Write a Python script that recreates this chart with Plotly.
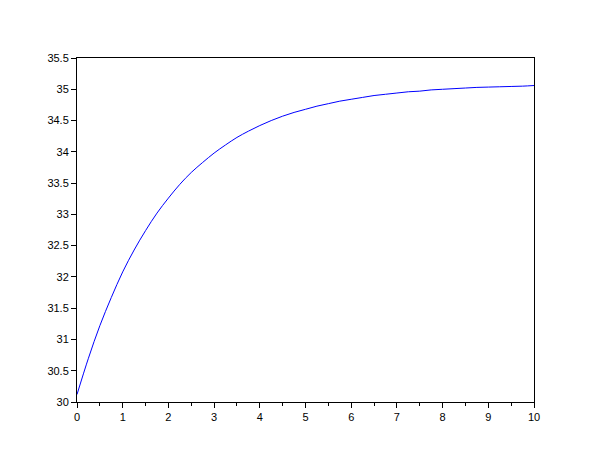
import plotly.graph_objects as go

x_vals = [0, 0.25, 0.5, 0.75, 1, 1.25, 1.5, 1.75, 2, 2.25, 2.5, 2.75, 3, 3.25, 3.5, 3.75,
          4, 4.25, 4.5, 4.75, 5, 5.25, 5.5, 5.75, 6, 6.25, 6.5, 6.75, 7, 7.25, 7.5, 7.75,
          8, 8.25, 8.5, 8.75, 9, 9.25, 9.5, 9.75, 10]
y_vals = [30.12, 30.70, 31.22, 31.67, 32.08, 32.43, 32.74, 33.02, 33.26, 33.48, 33.67, 33.83,
          33.98, 34.11, 34.23, 34.33, 34.42, 34.50, 34.57, 34.63, 34.68, 34.73, 34.77, 34.81,
          34.84, 34.87, 34.90, 34.92, 34.94, 34.96, 34.97, 34.99, 35.00, 35.01, 35.02, 35.03,
          35.035, 35.04, 35.045, 35.05, 35.06]

x_ticks = [0, 1, 2, 3, 4, 5, 6, 7, 8, 9, 10]
y_ticks = [30, 30.5, 31, 31.5, 32, 32.5, 33, 33.5, 34, 34.5, 35, 35.5]

fig = go.Figure()
fig.add_trace(go.Scatter(x=x_vals, y=y_vals, mode="lines",
                         line=dict(color="#0000ff", width=1), line_shape="spline",
                         showlegend=False, hoverinfo="skip"))

axis_common = dict(showgrid=False, zeroline=False, showline=True, linecolor="black",
                   linewidth=1, mirror=True, ticks="outside", ticklen=5, tickwidth=1,
                   tickcolor="black", tickfont=dict(family="Liberation Sans", size=11, color="black"))

fig.update_xaxes(range=[0, 10], tickvals=x_ticks, ticktext=[str(v) for v in x_ticks],
                 minor=dict(tickvals=[0.5 + i for i in range(10)], ticks="outside",
                            ticklen=3, tickcolor="black", tickwidth=1),
                 **axis_common)
fig.update_yaxes(range=[30, 35.5], tickvals=y_ticks,
                 ticktext=[("%g" % v) for v in y_ticks], **axis_common)

fig.update_layout(width=610, height=460, paper_bgcolor="white", plot_bgcolor="white",
                  margin=dict(l=69, r=84, t=50, b=66))

fig.write_html("out.html")
